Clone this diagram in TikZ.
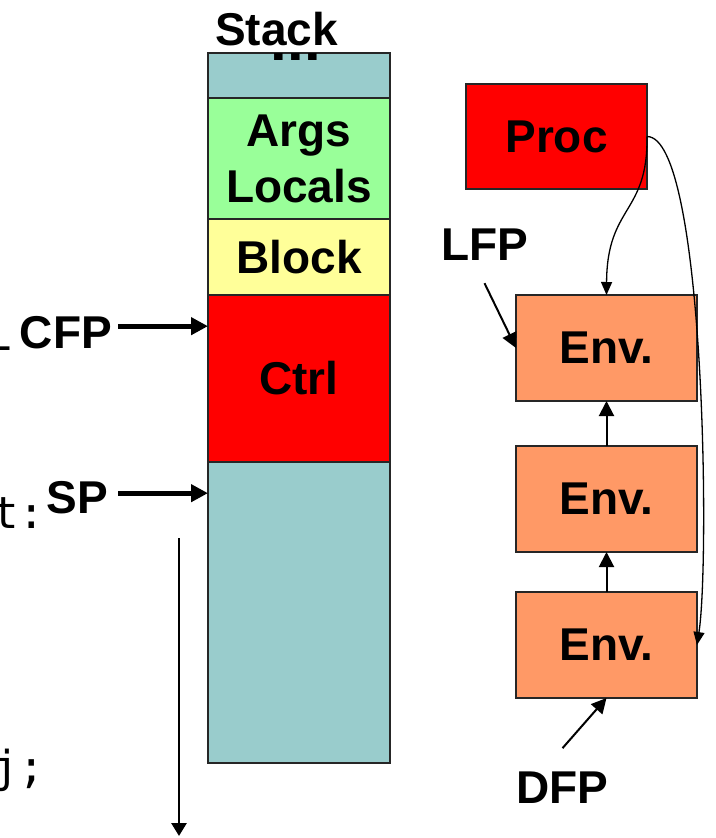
\documentclass[tikz,border=0pt]{standalone}
\usepackage{fontspec}
\setmainfont{Liberation Sans}
\newfontfamily\codefont{DejaVu Sans Mono}
\usepackage{tikz}
\usetikzlibrary{arrows.meta,positioning}

\definecolor{stackteal}{HTML}{99CCCC}
\definecolor{argsgreen}{HTML}{99FF99}
\definecolor{blockyellow}{HTML}{FFFF99}
\definecolor{ctrlred}{HTML}{FF0000}
\definecolor{envorange}{HTML}{FF9966}
\newcommand{\bigbold}{\fontsize{46}{56}\selectfont\bfseries}

\begin{document}
\begin{tikzpicture}[
    x=1pt, y=1pt,
    cell/.style={draw=black!85, line width=1.6pt, minimum width=182pt, outer sep=0pt, inner sep=0pt, align=center, font=\bigbold},
    envbox/.style={draw=black!85, line width=1.6pt, fill=envorange, minimum width=181pt, minimum height=106pt, outer sep=0pt, inner sep=0pt, font=\bigbold},
    lbl/.style={inner sep=3pt, font=\bigbold},
    code/.style={inner sep=0pt, font=\codefont\fontsize{44}{44}\selectfont},
    bigptr/.style={-{Triangle[length=17pt,width=17pt]}, line width=5pt},
    ptr/.style={-{Triangle[length=15pt,width=15pt]}, line width=2pt},
    thinptr/.style={-{Triangle[length=13pt,width=11pt]}, line width=1.3pt},
    growptr/.style={-{Triangle[length=13pt,width=15pt]}, line width=2.8pt}
]
\useasboundingbox (0,0) rectangle (715,-838);
\clip (0,0) rectangle (715,-838);

% stack frame cells
\node[cell, fill=stackteal, minimum height=45pt] (top) at (299,-75.5) {};
\node[cell, fill=argsgreen, minimum height=121pt, below=0pt of top] (args) {Args\\Locals};
\node[cell, fill=blockyellow, minimum height=76pt, below=0pt of args] (block) {Block};
\node[cell, fill=ctrlred, minimum height=167pt, below=0pt of block] (ctrl) {Ctrl};
\node[cell, fill=stackteal, minimum height=301pt, below=0pt of ctrl] (free) {};
\begin{scope}
\clip (top.north west) rectangle (top.south east);
\node[anchor=base, inner sep=0pt, font=\fontsize{60}{60}\selectfont\bfseries] (dots) at (296,-60) {...};
\end{scope}

% labels
\node[lbl, anchor=base] (stack) at (276.5,-45) {Stack};
\node[lbl, anchor=base east] (cfp) at (115,-348) {CFP};
\node[lbl, anchor=base east] (sp) at (111,-513) {SP};
\node[lbl, anchor=base] (lfp) at (484.5,-260) {LFP};
\node[lbl, anchor=base] (dfp) at (562.5,-803) {DFP};
\node[code, anchor=base west] (callL) at (-15,-350) {L};
\node[code, anchor=base west] (target) at (-8,-528) {t:};
\node[code, anchor=base west] (jump) at (-8,-782) {j;};

% environments
\node[envbox, fill=ctrlred, minimum height=105pt] (proc) at (556.5,-136.5) {Proc};
\node[envbox] (env1) at (606.5,-348) {Env.};
\node[envbox, below=45pt of env1] (env2) {Env.};
\node[envbox, below=40pt of env2] (env3) {Env.};

\draw[bigptr] ([xshift=3pt,yshift=6pt]cfp.east) -- ([yshift=6pt]cfp.east -| ctrl.west);
\draw[bigptr] ([xshift=7pt,yshift=4pt]sp.east) -- ([yshift=4pt]sp.east -| free.west);
\draw[ptr] (env2.north) -- (env1.south);
\draw[ptr] (env3.north) -- (env2.south);
\draw[thinptr] (proc.east) .. controls +(1,-78) and +(0.5,90) .. (env1.north);
\draw[thinptr] (proc.east) .. controls +(58,0) and +(13,84) .. (env3.east);
\draw[ptr] ([yshift=-20pt]lfp.south) -- (env1.west);
\draw[ptr] ([yshift=20pt]dfp.north) -- (env3.south);

% growth direction
\coordinate (growtop) at (179,-538);
\coordinate (growend) at (179,-836);
\draw[growptr] (growtop) -- (growend);
\end{tikzpicture}
\end{document}
